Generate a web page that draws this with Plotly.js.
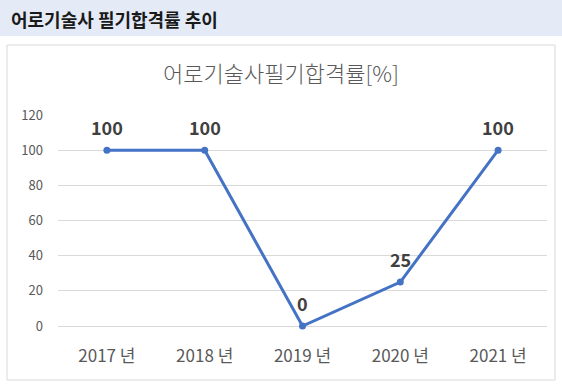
<!DOCTYPE html>
<html>
<head>
<meta charset="utf-8">
<script src="https://cdn.plot.ly/plotly-3.0.1.min.js"></script>
<style>
  html, body { margin: 0; padding: 0; background: #ffffff; }
  #chart { width: 562px; height: 387px; }
</style>
</head>
<body>
<div id="chart"></div>
<script>
// ---- data ----
const categories = ["2017 년", "2018 년", "2019 년", "2020 년", "2021 년"];
const passRates = [100, 100, 0, 25, 100];
const yTickValues = [0, 20, 40, 60, 80, 100, 120];
const headerText = "어로기술사 필기합격률 추이";
const chartTitle = "어로기술사필기합격률[%]";

// ---- layout geometry (pixels) ----
const W = 562, H = 387;
const M = { l: 58, r: 15, t: 115, b: 61 };
const PW = W - M.l - M.r, PH = H - M.t - M.b;
const px = x => (x - M.l) / PW;
const py = y => (H - M.b - y) / PH;

const FONT = "'Noto Sans CJK KR', 'Noto Sans', sans-serif";

const trace = {
  x: categories,
  y: passRates,
  type: "scatter",
  mode: "lines+markers",
  line: { color: "#4472c4", width: 3 },
  marker: { color: "#4472c4", size: 7 },
  cliponaxis: false,
  hoverinfo: "skip"
};

const labelAnnotations = categories.map((c, i) => ({
  xref: "x", yref: "y", x: c, y: passRates[i],
  xanchor: "center", yanchor: "bottom", yshift: 8, showarrow: false,
  text: String(passRates[i]),
  font: { family: FONT, size: 18, color: "#404040", weight: 700 }
}));

const layout = {
  width: W, height: H,
  margin: M,
  paper_bgcolor: "#ffffff",
  plot_bgcolor: "#ffffff",
  showlegend: false,
  font: { family: FONT, color: "#595959" },
  xaxis: {
    type: "category",
    range: [-0.5, categories.length - 0.5],
    showgrid: false, zeroline: false, showline: false,
    ticks: "",
    tickfont: { family: FONT, size: 17, color: "#595959" },
    ticklabelstandoff: 18,
    fixedrange: true
  },
  yaxis: {
    range: [0, 120],
    tickvals: yTickValues,
    showgrid: true, gridcolor: "#d9d9d9", gridwidth: 1,
    zeroline: true, zerolinecolor: "#d9d9d9", zerolinewidth: 1,
    showline: false, ticks: "",
    tickfont: { family: FONT, size: 13, color: "#595959" },
    ticklabelstandoff: 14,
    fixedrange: true
  },
  shapes: [
    { type: "rect", xref: "paper", yref: "paper", layer: "below",
      x0: px(0), x1: px(W), y0: py(36), y1: py(0),
      fillcolor: "#e4ebf7", line: { width: 0 } },
    { type: "rect", xref: "paper", yref: "paper", layer: "below",
      x0: px(7), x1: px(555), y0: py(380), y1: py(45),
      fillcolor: "rgba(0,0,0,0)", line: { color: "#d9d9d9", width: 1 } }
  ],
  annotations: [
    { xref: "paper", yref: "paper", x: px(9), y: py(19),
      xanchor: "left", yanchor: "middle", showarrow: false,
      text: headerText,
      font: { family: FONT, size: 18, color: "#1a1a1a", weight: 700 } },
    { xref: "paper", yref: "paper", x: px(281), y: py(72),
      xanchor: "center", yanchor: "middle", showarrow: false,
      text: chartTitle,
      font: { family: FONT, size: 22, color: "#595959", weight: 300 } }
  ].concat(labelAnnotations)
};

Plotly.newPlot("chart", [trace], layout, { displayModeBar: false, staticPlot: true });
</script>
</body>
</html>
